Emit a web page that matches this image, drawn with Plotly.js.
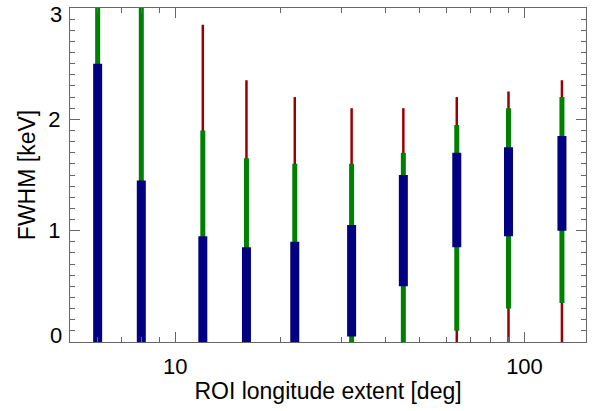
<!DOCTYPE html>
<html>
<head>
<meta charset="utf-8">
<script src="https://cdn.plot.ly/plotly-3.0.1.min.js"></script>
<style>
  body { margin: 0; background: #fff; }
  #chart { width: 598px; height: 411px; }
</style>
</head>
<body>
<div id="chart"></div>
<script>
// ROI longitude extent (deg)
const roi = [6, 8, 12, 16, 22, 32, 45, 64, 90, 128];

// FWHM intervals (keV): outer (red), middle (green), inner (blue)
const redLo = [0, 0, 0, 0, 0, 0, 0, 0, 0, 0];
const redHi = [3.6, 3.6, 2.85, 2.35, 2.2, 2.1, 2.1, 2.2, 2.25, 2.35];
const greenLo = [0, 0, 0, 0, 0, 0, 0, 0.1, 0.3, 0.35];
const greenHi = [3.4, 3.4, 1.9, 1.65, 1.6, 1.6, 1.7, 1.95, 2.1, 2.2];
const blueLo = [0, 0, 0, 0, 0, 0.05, 0.5, 0.85, 0.95, 1.0];
const blueHi = [2.5, 1.45, 0.95, 0.85, 0.9, 1.05, 1.5, 1.7, 1.75, 1.85];

// axis ticks
const xTicks = [10, 100];
const xMinor = [5, 6, 7, 8, 9, 20, 30, 40, 50, 60, 70, 80, 90];
const yTicks = [0, 1, 2, 3];

// turn lo/hi arrays into one trace of vertical segments
function segments(lo, hi, color, width) {
    const x = [], y = [];
    roi.forEach((r, i) => {
        x.push(r, r, null);
        y.push(lo[i], hi[i], null);
    });
    return {
        x: x, y: y,
        type: 'scatter',
        mode: 'lines',
        line: {color: color, width: width},
        connectgaps: false,
        hoverinfo: 'skip',
        showlegend: false
    };
}

const data = [
    segments(redLo, redHi, '#990000', 2.5),
    segments(greenLo, greenHi, '#008000', 5),
    segments(blueLo, blueHi, '#000080', 9)
];

const tickFont = {family: 'Liberation Sans, Arial, sans-serif', size: 22, color: '#000'};
const titleFont = {family: 'Liberation Sans, Arial, sans-serif', size: 23, color: '#000'};
const axisGray = '#666';

// end labels sit a little inside the frame, as in the original
const yMin = yTicks[0], yMax = yTicks[yTicks.length - 1];
const endLabels = [
    {v: yMin, shift: 7},
    {v: yMax, shift: -6}
].map(e => ({
    xref: 'paper', yref: 'y', x: 0, y: e.v,
    xanchor: 'right', yanchor: 'middle',
    xshift: -6, yshift: e.shift,
    text: String(e.v), showarrow: false, font: tickFont
}));

const layout = {
    width: 598,
    height: 411,
    margin: {l: 70, r: 12, t: 8, b: 69},
    paper_bgcolor: '#fff',
    plot_bgcolor: '#fff',
    font: tickFont,
    xaxis: {
        type: 'log',
        range: [Math.log10(5), Math.log10(150)],
        tickvals: xTicks,
        ticktext: xTicks.map(String),
        tickfont: tickFont,
        ticks: 'inside',
        ticklen: 10,
        tickcolor: axisGray,
        minor: {ticks: 'inside', ticklen: 5, tickcolor: axisGray, tickvals: xMinor},
        showline: true,
        linecolor: axisGray,
        linewidth: 1,
        mirror: 'ticks',
        showgrid: false,
        zeroline: false,
        ticklabelstandoff: 5,
        title: {text: 'ROI longitude extent [deg]', font: titleFont, standoff: 4}
    },
    yaxis: {
        range: [yMin, yMax],
        tickvals: yTicks,
        ticktext: yTicks.map(v => (v === yMin || v === yMax) ? '' : String(v)),
        tickfont: tickFont,
        ticks: 'inside',
        ticklen: 10,
        tickcolor: axisGray,
        minor: {ticks: 'inside', ticklen: 5, tickcolor: axisGray, dtick: 0.1},
        showline: true,
        linecolor: axisGray,
        linewidth: 1,
        mirror: 'ticks',
        showgrid: false,
        zeroline: false,
        ticklabelstandoff: 4,
        title: {text: 'FWHM [keV]', font: titleFont, standoff: 6}
    },
    annotations: endLabels
};

Plotly.newPlot('chart', data, layout, {staticPlot: true, displayModeBar: false});
</script>
</body>
</html>
